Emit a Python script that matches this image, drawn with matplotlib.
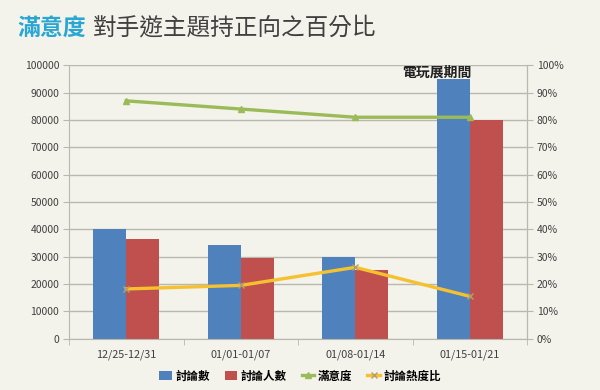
import matplotlib
matplotlib.use("Agg")
import matplotlib.pyplot as plt
import numpy as np
from matplotlib.ticker import FixedLocator, PercentFormatter

plt.rcParams['font.family'] = ['Noto Sans CJK TC', 'DejaVu Sans']

categories = ["12/25-12/31", "01/01-01/07", "01/08-01/14", "01/15-01/21"]
discussions = [40000, 34300, 29900, 95000]
participants = [36500, 29600, 25200, 80000]
satisfaction = [0.87, 0.84, 0.81, 0.81]
heat_ratio = [0.182, 0.195, 0.261, 0.155]
series_names = ["討論數", "討論人數", "滿意度", "討論熱度比"]

bg = "#f3f2eb"
blue = "#4f81bd"
red = "#c0504d"
green = "#9bbb59"
yellow = "#f5c12e"
gridc = "#b8b8b0"
txtc = "#404040"

fig = plt.figure(figsize=(6, 3.9), dpi=100, facecolor=bg)
ax = fig.add_axes([69/600, 1-338.7/390, (527-69)/600, (338.7-65.3)/390])
ax.set_facecolor(bg)

x = np.arange(len(categories))
w = 0.29
b1 = ax.bar(x - w/2, discussions, w, color=blue, label=series_names[0], zorder=2)
b2 = ax.bar(x + w/2, participants, w, color=red, label=series_names[1], zorder=2)
ax.set_xlim(-0.5, len(categories) - 0.5)
ax.set_ylim(0, 100000)
ax.set_yticks(np.arange(0, 100001, 10000))
ax.yaxis.grid(True, color=gridc, linewidth=1, zorder=0)
ax.set_axisbelow(True)
ax.set_xticks(x)
ax.set_xticklabels(categories, fontsize=7.8, color=txtc)
ax.xaxis.set_minor_locator(FixedLocator(np.arange(-0.5, len(categories), 1.0)))
ax.tick_params(axis='x', which='major', length=0, pad=8)
ax.tick_params(axis='x', which='minor', length=4, color=gridc)
ax.tick_params(axis='y', length=4, color=gridc, labelsize=7.5, labelcolor=txtc, pad=3)
ax.spines['top'].set_visible(False)
for s in ['left', 'bottom', 'right']:
    ax.spines[s].set_color(gridc)

ax2 = ax.twinx()
ax2.set_ylim(0, 1)
ax2.set_yticks(np.arange(0, 1.01, 0.1))
ax2.yaxis.set_major_formatter(PercentFormatter(1.0, decimals=0))
ax2.tick_params(axis='y', length=4, color=gridc, labelsize=7.5, labelcolor=txtc, pad=3)
for s in ['top', 'left', 'bottom']:
    ax2.spines[s].set_visible(False)
ax2.spines['right'].set_color(gridc)
l1, = ax2.plot(x, satisfaction, color=green, lw=2.4, marker='^', ms=5,
               mfc=green, mec=green, label=series_names[2], zorder=3)
l2, = ax2.plot(x, heat_ratio, color=yellow, lw=2.4, marker='x', ms=5,
               mec="#b0a070", mew=1, label=series_names[3], zorder=3)

ax.text(3 - w, 97300, "電玩展期間", ha='center', va='center', fontsize=10,
        fontweight='bold', color='#202020', zorder=4)

fig.legend(handles=[b1, b2, l1, l2], labels=series_names, loc='center',
           bbox_to_anchor=(300/600, 1-376/390), ncol=4, frameon=False,
           handlelength=1.1, handletextpad=0.3, columnspacing=1.3,
           prop={'weight': 'bold', 'size': 8.3})

fig.text(17/600, 1-28/390, "滿意度", color="#2aa6d3", fontsize=16.5,
         fontweight='bold', va='center', ha='left')
fig.text(93/600, 1-28/390, "對手遊主題持正向之百分比", color="#404040", fontsize=17,
         fontweight='medium', va='center', ha='left')

fig.savefig("out.png", dpi=100, facecolor=bg)
